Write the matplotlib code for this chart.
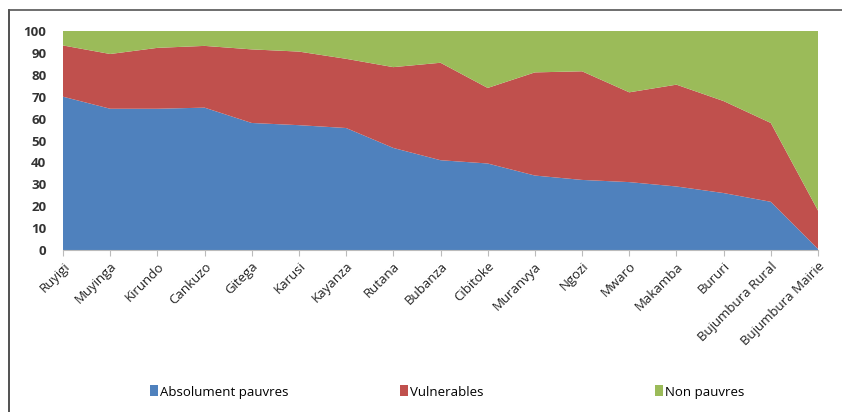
import matplotlib.pyplot as plt
from matplotlib.lines import Line2D
from matplotlib.patches import Patch
import numpy as np

provinces = ["Ruyigi", "Muyinga", "Kirundo", "Cankuzo", "Gitega", "Karusi",
             "Kayanza", "Rutana", "Bubanza", "Cibitoke", "Muranvya", "Ngozi",
             "Mwaro", "Makamba", "Bururi", "Bujumbura Rural", "Bujumbura Mairie"]
# absolute poor and top of the vulnerable band
absolument = [70, 64.5, 64.5, 65, 58, 57, 55.7, 46.6, 41, 39.5, 34, 32,
              31, 29, 26, 22, 0.5]
cumul_vuln = [93.4, 89.5, 92.3, 93.2, 91.6, 90.6, 87.3, 83.5, 85.5, 74, 81.1,
              81.6, 72, 75.5, 68, 58, 18]
vulnerables = [c - a for c, a in zip(cumul_vuln, absolument)]
non_pauvres = [100 - c for c in cumul_vuln]

labels = ["Absolument pauvres", "Vulnerables", "Non pauvres"]
colors = ["#4F81BD", "#C0504D", "#9BBB59"]

plt.rcParams['font.family'] = ['Open Sans', 'DejaVu Sans']

fig = plt.figure(figsize=(8.42, 4.12), dpi=100, facecolor='white')
ax = fig.add_axes([63 / 842, 1 - 250 / 412, 755 / 842, 219 / 412])

x = np.arange(len(provinces))
ax.stackplot(x, absolument, vulnerables, non_pauvres, colors=colors, linewidth=0)

ax.set_xlim(0, len(provinces) - 1)
ax.set_ylim(0, 100)
ax.set_yticks(range(0, 101, 10))
ax.set_xticks(x)
ax.set_xticklabels(provinces, rotation=45, ha='right', rotation_mode='anchor',
                   fontsize=9.5, color='#222222')
for lab in ax.get_yticklabels():
    lab.set_fontsize(9.5)
    lab.set_fontweight('bold')
    lab.set_color('#333333')
ax.tick_params(axis='y', length=0, pad=12)
ax.tick_params(axis='x', length=4, color='#BBBBBB', direction='out', pad=3)
for side in ['top', 'right', 'left']:
    ax.spines[side].set_visible(False)
ax.spines['bottom'].set_color('#BBBBBB')

# legend entries spaced evenly like the Excel legend
legend_x = [143, 393, 648]
for c, lab, lx in zip(colors, labels, legend_x):
    leg = fig.legend([Patch(facecolor=c, edgecolor='none')], [lab], loc='center left',
                     bbox_to_anchor=(lx / 842, 1 - 392 / 412), frameon=False,
                     fontsize=9.5, handlelength=0.6, handleheight=0.9,
                     handletextpad=0.2, borderpad=0)

# outer frame lines of the cropped screenshot
fig.add_artist(Line2D([9 / 842, 9 / 842], [0, 1 - 10 / 412], color='#333333',
                      linewidth=1.2, transform=fig.transFigure))
fig.add_artist(Line2D([9 / 842, 1], [1 - 10 / 412, 1 - 10 / 412], color='#555555',
                      linewidth=1.2, transform=fig.transFigure))

fig.savefig("out.png", dpi=100, facecolor='white')
